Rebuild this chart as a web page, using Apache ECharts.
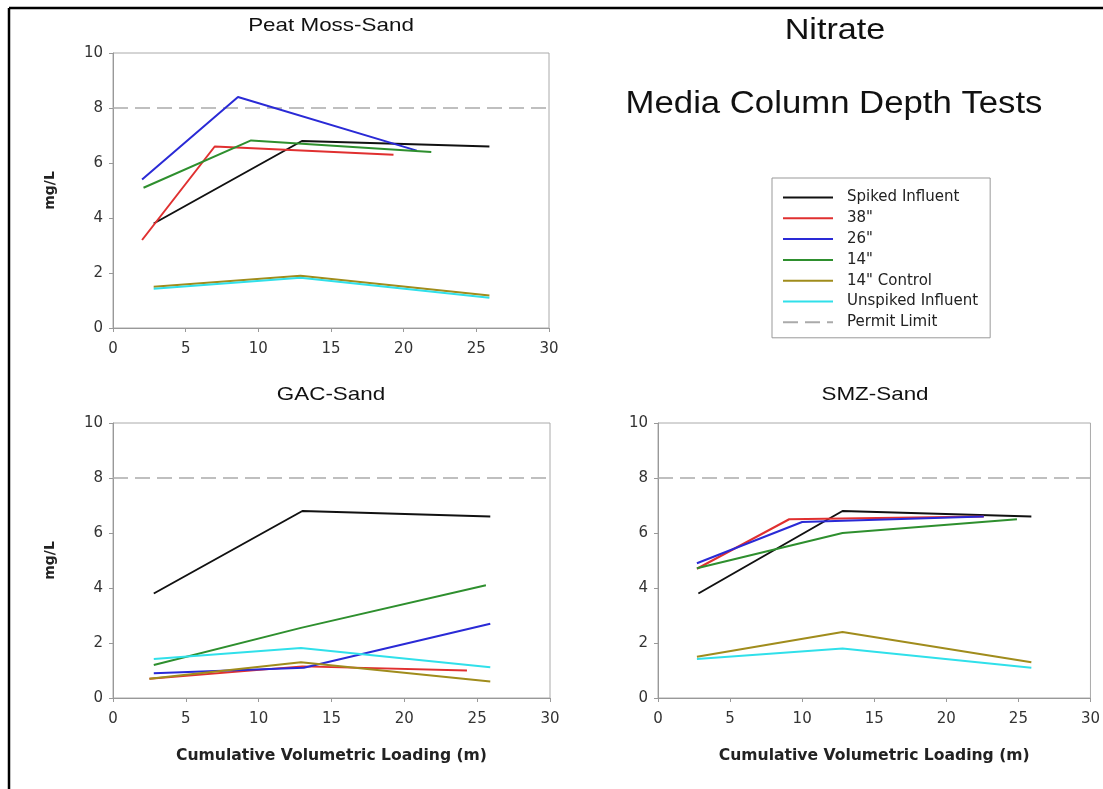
<!DOCTYPE html>
<html>
<head>
<meta charset="utf-8">
<script src="https://cdn.jsdelivr.net/npm/echarts@6/dist/echarts.min.js"></script>
<style>
html,body{margin:0;padding:0;background:#fff;}
#chart{width:1103px;height:789px;}
</style>
</head>
<body>
<div id="chart"></div>
<script>
// ---- Data (x = cumulative volumetric loading, m ; y = nitrate mg/L) ----
const seriesNames = ['Spiked Influent', '38"', '26"', '14"', '14" Control', 'Unspiked Influent', 'Permit Limit'];
const seriesColors = ['#111111', '#e03030', '#2a2ad6', '#2e8f2e', '#a08c1c', '#30e0ea', '#aaaaaa'];
const panelTitles = ['Peat Moss-Sand', 'GAC-Sand', 'SMZ-Sand'];
const xTicks = [0, 5, 10, 15, 20, 25, 30];
const yTicks = [0, 2, 4, 6, 8, 10];
const permitLimit = [[0, 8], [30, 8]];

// Peat Moss-Sand
const peatSpiked   = [[2.8, 3.8], [13.0, 6.8], [25.9, 6.6]];
const peat38       = [[2.0, 3.2], [7.0, 6.6], [19.3, 6.3]];
const peat26       = [[2.0, 5.4], [8.6, 8.4], [20.9, 6.45]];
const peat14       = [[2.1, 5.1], [9.5, 6.82], [21.9, 6.4]];
const peat14Ctrl   = [[2.8, 1.5], [12.9, 1.9], [25.9, 1.18]];
const peatUnspiked = [[2.8, 1.43], [12.9, 1.83], [25.9, 1.1]];

// GAC-Sand
const gacSpiked    = [[2.8, 3.8], [13.0, 6.8], [25.9, 6.6]];
const gac38        = [[2.5, 0.7], [13.0, 1.15], [24.3, 1.0]];
const gac26        = [[2.8, 0.9], [13.1, 1.1], [25.9, 2.7]];
const gac14        = [[2.8, 1.2], [12.9, 2.55], [25.6, 4.1]];
const gac14Ctrl    = [[2.5, 0.7], [12.9, 1.3], [25.9, 0.6]];
const gacUnspiked  = [[2.8, 1.42], [12.9, 1.82], [25.9, 1.12]];

// SMZ-Sand
const smzSpiked    = [[2.8, 3.8], [12.8, 6.8], [25.9, 6.6]];
const smz38        = [[2.7, 4.7], [9.1, 6.5], [22.6, 6.6]];
const smz26        = [[2.7, 4.9], [10.0, 6.4], [22.6, 6.6]];
const smz14        = [[2.7, 4.72], [12.8, 6.0], [24.9, 6.5]];
const smz14Ctrl    = [[2.7, 1.5], [12.8, 2.4], [25.9, 1.3]];
const smzUnspiked  = [[2.7, 1.42], [12.8, 1.8], [25.9, 1.1]];

const panelData = [
  [peatSpiked, peat38, peat26, peat14, peat14Ctrl, peatUnspiked],
  [gacSpiked, gac38, gac26, gac14, gac14Ctrl, gacUnspiked],
  [smzSpiked, smz38, smz26, smz14, smz14Ctrl, smzUnspiked]
];

// ---- Layout ----
const grids = [
  {left: 113, top: 53, width: 436, height: 275},
  {left: 113, top: 423, width: 437, height: 275},
  {left: 658, top: 423, width: 435, height: 275}
];
const FONT = '"Liberation Sans", Arial, sans-serif';
const WFONT = '"DejaVu Sans", sans-serif';

const xAxes = grids.map((g, i) => ({
  type: 'value', gridIndex: i, min: xTicks[0], max: xTicks[xTicks.length - 1], interval: 5,
  axisLine: {show: true, lineStyle: {color: '#999', width: 1}},
  axisTick: {show: true, inside: false, length: 4, lineStyle: {color: '#999'}},
  axisLabel: {color: '#333', fontSize: 15, fontFamily: WFONT, margin: 14},
  splitLine: {show: false},
  name: i > 0 ? 'Cumulative Volumetric Loading (m)' : '',
  nameLocation: 'middle', nameGap: 50,
  nameTextStyle: {color: '#222', fontSize: 15.6, fontWeight: 'bold', fontFamily: WFONT}
}));
const yAxes = grids.map((g, i) => ({
  type: 'value', gridIndex: i, min: yTicks[0], max: yTicks[yTicks.length - 1], interval: 2,
  axisLine: {show: true, lineStyle: {color: '#999', width: 1}},
  axisTick: {show: true, inside: false, length: 4, lineStyle: {color: '#999'}},
  axisLabel: {color: '#333', fontSize: 15, fontFamily: WFONT, margin: 10},
  splitLine: {show: false},
  name: i < 2 ? 'mg/L' : '',
  nameLocation: 'middle', nameGap: 56, nameRotate: 90,
  nameTextStyle: {color: '#222', fontSize: 14, fontWeight: 'bold', fontFamily: WFONT}
}));

const series = [];
panelData.forEach((sets, p) => {
  sets.forEach((d, k) => {
    series.push({
      name: seriesNames[k], type: 'line', xAxisIndex: p, yAxisIndex: p,
      data: d, symbol: 'none', silent: true, animation: false,
      lineStyle: {color: seriesColors[k], width: 2},
      itemStyle: {color: seriesColors[k]}
    });
  });
  series.push({
    name: seriesNames[6], type: 'line', xAxisIndex: p, yAxisIndex: p,
    data: permitLimit, symbol: 'none', silent: true, animation: false, z: 1,
    lineStyle: {color: seriesColors[6], width: 1.5, type: [15, 7]},
    itemStyle: {color: seriesColors[6]}
  });
});

const titleTexts = [
  {text: panelTitles[0], x: 331, y: 26, size: 19, sx: 1.18},
  {text: panelTitles[1], x: 331, y: 395, size: 19, sx: 1.18},
  {text: panelTitles[2], x: 875, y: 395, size: 19, sx: 1.18},
  {text: 'Nitrate', x: 835, y: 31, size: 30, sx: 1.14},
  {text: 'Media Column Depth Tests', x: 834, y: 104, size: 31, sx: 1.12}
];

const graphic = titleTexts.map(t => ({
  type: 'text', x: t.x, y: t.y, scaleX: t.sx, scaleY: 1,
  style: {text: t.text, fill: '#111', font: t.size + 'px ' + FONT, textAlign: 'center', textVerticalAlign: 'middle'}
}));
graphic.push({type: 'line', shape: {x1: 9, y1: 8, x2: 1103, y2: 8}, style: {stroke: '#000', lineWidth: 2.5}});
graphic.push({type: 'line', shape: {x1: 9, y1: 8, x2: 9, y2: 789}, style: {stroke: '#000', lineWidth: 2.5}});

const option = {
  backgroundColor: '#fff',
  animation: false,
  grid: grids.map(g => Object.assign({show: true, borderColor: '#aaa', borderWidth: 1, backgroundColor: 'transparent'}, g)),
  xAxis: xAxes,
  yAxis: yAxes,
  legend: {
    data: seriesNames,
    orient: 'vertical',
    left: 772, top: 178,
    padding: [12, 12, 8, 10],
    itemGap: 5.8,
    itemWidth: 50, itemHeight: 15,
    borderColor: '#999', borderWidth: 1,
    backgroundColor: '#fff',
    selectedMode: false,
    itemStyle: {opacity: 0, borderWidth: 0},
    textStyle: {color: '#222', fontSize: 15, fontFamily: WFONT, padding: [0, 0, 0, 9]}
  },
  graphic: graphic,
  series: series
};

const chart = echarts.init(document.getElementById('chart'), null, {renderer: 'canvas'});
chart.setOption(option);
</script>
</body>
</html>
